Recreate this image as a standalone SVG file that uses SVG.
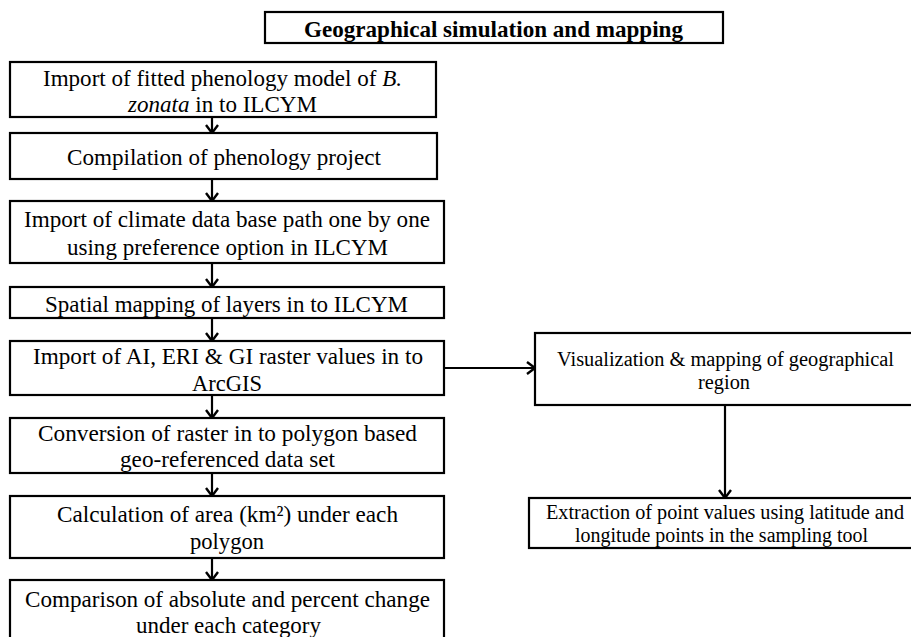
<svg xmlns="http://www.w3.org/2000/svg" width="911" height="637" viewBox="0 0 911 637">
<defs>
<style>
.box{fill:#fff;stroke:#000;stroke-width:2.2}
.t{font-family:'Liberation Serif','Times New Roman','DejaVu Serif',serif;font-size:23px;fill:#000;text-anchor:middle}
.r{font-family:'Liberation Serif','Times New Roman','DejaVu Serif',serif;font-size:20px;fill:#000;text-anchor:middle}
.title{font-family:'Liberation Serif','Times New Roman','DejaVu Serif',serif;font-size:23px;font-weight:bold;fill:#000;text-anchor:middle}
.c{stroke:#000;stroke-width:2.2;fill:none}
</style>
<marker id="ah" markerUnits="userSpaceOnUse" markerWidth="14" markerHeight="14" refX="10" refY="7" orient="auto">
<path d="M2,1 L10,7 L2,13" fill="none" stroke="#000" stroke-width="2.4"/>
</marker>
</defs>
<rect width="911" height="637" fill="#fff"/>
<g id="title">
<rect class="box" x="265" y="12" width="458" height="31"/>
<text class="title" x="493.5" y="37" textLength="379" lengthAdjust="spacingAndGlyphs">Geographical simulation and mapping</text>
</g>
<g id="connectors">
<line class="c" x1="212" y1="117" x2="212" y2="133" marker-end="url(#ah)"/>
<line class="c" x1="212" y1="179" x2="212" y2="201" marker-end="url(#ah)"/>
<line class="c" x1="212" y1="263" x2="212" y2="287" marker-end="url(#ah)"/>
<line class="c" x1="212" y1="318" x2="212" y2="341" marker-end="url(#ah)"/>
<line class="c" x1="212" y1="395" x2="212" y2="418" marker-end="url(#ah)"/>
<line class="c" x1="212" y1="473" x2="212" y2="496" marker-end="url(#ah)"/>
<line class="c" x1="212" y1="558" x2="212" y2="580" marker-end="url(#ah)"/>
<line class="c" x1="444" y1="368" x2="535" y2="368" marker-end="url(#ah)"/>
<line class="c" x1="725" y1="405" x2="725" y2="498" marker-end="url(#ah)"/>
</g>
<g id="n1">
<rect class="box" x="10" y="62" width="426" height="55"/>
<text class="t" x="222.5" y="86" textLength="359" lengthAdjust="spacingAndGlyphs">Import of fitted phenology model of <tspan font-style="italic">B.</tspan></text>
<text class="t" x="222.5" y="112" textLength="189" lengthAdjust="spacingAndGlyphs"><tspan font-style="italic">zonata</tspan> in to ILCYM</text>
</g>
<g id="n2">
<rect class="box" x="10" y="133" width="427" height="46"/>
<text class="t" x="224" y="165" textLength="314" lengthAdjust="spacingAndGlyphs">Compilation of phenology project</text>
</g>
<g id="n3">
<rect class="box" x="10" y="201" width="434" height="62"/>
<text class="t" x="227" y="227" textLength="406" lengthAdjust="spacingAndGlyphs">Import of climate data base path one by one</text>
<text class="t" x="227.5" y="255" textLength="321" lengthAdjust="spacingAndGlyphs">using preference option in ILCYM</text>
</g>
<g id="n4">
<rect class="box" x="10" y="287" width="434" height="31"/>
<text class="t" x="226.5" y="312" textLength="363" lengthAdjust="spacingAndGlyphs">Spatial mapping of layers in to ILCYM</text>
</g>
<g id="n5">
<rect class="box" x="10" y="341" width="434" height="54"/>
<text class="t" x="228" y="364" textLength="390" lengthAdjust="spacingAndGlyphs">Import of AI, ERI &amp; GI raster values in to</text>
<text class="t" x="227" y="391" textLength="70" lengthAdjust="spacingAndGlyphs">ArcGIS</text>
</g>
<g id="n6">
<rect class="box" x="10" y="418" width="434" height="55"/>
<text class="t" x="227.5" y="441" textLength="379" lengthAdjust="spacingAndGlyphs">Conversion of raster in to polygon based</text>
<text class="t" x="227.5" y="467" textLength="215" lengthAdjust="spacingAndGlyphs">geo-referenced data set</text>
</g>
<g id="n7">
<rect class="box" x="10" y="496" width="434" height="62"/>
<text class="t" x="227.5" y="522" textLength="341" lengthAdjust="spacingAndGlyphs">Calculation of area (km²) under each</text>
<text class="t" x="227" y="549" textLength="74" lengthAdjust="spacingAndGlyphs">polygon</text>
</g>
<g id="n8">
<rect class="box" x="10" y="580" width="434" height="70"/>
<text class="t" x="227.5" y="607" textLength="405" lengthAdjust="spacingAndGlyphs">Comparison of absolute and percent change</text>
<text class="t" x="228.5" y="633" textLength="185" lengthAdjust="spacingAndGlyphs">under each category</text>
</g>
<g id="r1">
<rect class="box" x="535" y="333" width="390" height="72"/>
<text class="r" x="725.5" y="366" textLength="337" lengthAdjust="spacingAndGlyphs">Visualization &amp; mapping of geographical</text>
<text class="r" x="724" y="389" textLength="52" lengthAdjust="spacingAndGlyphs">region</text>
</g>
<g id="r2">
<rect class="box" x="529" y="498" width="396" height="50"/>
<text class="r" x="725" y="519" textLength="358" lengthAdjust="spacingAndGlyphs">Extraction of point values using latitude and</text>
<text class="r" x="721.5" y="542" textLength="293" lengthAdjust="spacingAndGlyphs">longitude points in the sampling tool</text>
</g>
</svg>
